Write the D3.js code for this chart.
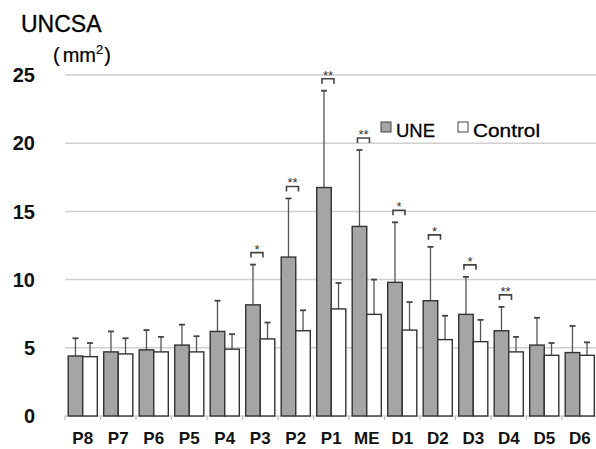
<!DOCTYPE html>
<html><head><meta charset="utf-8">
<script src="https://cdn.jsdelivr.net/npm/d3@7/dist/d3.min.js"></script>
<style>body{margin:0;background:#fff}svg{display:block}</style>
</head><body>
<svg id="c" width="596" height="449"></svg>
<script>
const categories = ["P8","P7","P6","P5","P4","P3","P2","P1","ME","D1","D2","D3","D4","D5","D6"];
const uneValues = [4.4, 4.7, 4.85, 5.2, 6.2, 8.15, 11.65, 16.75, 13.9, 9.8, 8.45, 7.45, 6.25, 5.2, 4.65];
const uneSD = [1.3, 1.5, 1.45, 1.5, 2.25, 2.95, 4.3, 7.1, 5.6, 4.4, 3.95, 2.75, 1.75, 2.0, 1.95];
const controlValues = [4.35, 4.55, 4.7, 4.7, 4.9, 5.65, 6.25, 7.85, 7.45, 6.3, 5.6, 5.45, 4.7, 4.45, 4.45];
const controlSD = [1.0, 1.15, 1.1, 1.15, 1.1, 1.2, 1.5, 1.9, 2.55, 2.05, 1.75, 1.6, 1.1, 0.9, 0.95];
const significance = ["", "", "", "", "", "*", "**", "**", "**", "*", "*", "*", "**", "", ""];
const yTicks = [0, 5, 10, 15, 20, 25];
const seriesNames = ["UNE", "Control"];
const seriesColors = ["#a5a5a5", "#ffffff"];

const svg = d3.select("#c");
const font = "Arial, 'Liberation Sans', sans-serif";
const x = d3.scaleBand().domain(categories).range([65, 597.5]).paddingInner(0.18).paddingOuter(0.09);
const xs = d3.scaleBand().domain(seriesNames).range([0, x.bandwidth()]);
const y = d3.scaleLinear().domain([0, 25]).range([416, 75]);

// gridlines
svg.append("g").selectAll("line").data(yTicks.filter(d => d > 0)).join("line")
  .attr("x1", 65).attr("x2", 596).attr("y1", d => y(d)).attr("y2", d => y(d))
  .attr("stroke", "#cfcfcf").attr("stroke-width", 1.5);

// y tick labels
svg.append("g").selectAll("text").data(yTicks).join("text")
  .attr("x", 35).attr("y", d => y(d)).attr("dy", "0.36em")
  .attr("text-anchor", "end").attr("font-family", font).attr("font-weight", "bold")
  .attr("font-size", 20).attr("fill", "#111").text(d => d);

// x axis
const xAxis = d3.axisBottom(x).tickSize(0).tickPadding(0);
const ax = svg.append("g").attr("transform", `translate(0,${y(0)})`).call(xAxis);
ax.select(".domain").remove();
ax.selectAll("text").remove();
svg.append("line").attr("x1", 65).attr("x2", 597).attr("y1", y(0)).attr("y2", y(0))
  .attr("stroke", "#bdbdbd").attr("stroke-width", 1.2);
const bounds = categories.map(c => x(c) - x.step() * x.paddingInner() / 2);
bounds.push(bounds[bounds.length - 1] + x.step());
svg.append("g").selectAll("line").data(bounds).join("line")
  .attr("x1", d => d).attr("x2", d => d).attr("y1", y(0)).attr("y2", y(0) + 4)
  .attr("stroke", "#bdbdbd").attr("stroke-width", 1.2);
svg.append("g").selectAll("text").data(categories).join("text")
  .attr("x", d => x(d) + x.bandwidth() / 2).attr("y", 444)
  .attr("text-anchor", "middle").attr("font-family", font).attr("font-size", 17)
  .attr("font-weight", "bold").attr("fill", "#111").text(d => d);

const series = [
  {name: "UNE", values: uneValues, sd: uneSD, color: seriesColors[0]},
  {name: "Control", values: controlValues, sd: controlSD, color: seriesColors[1]}
];

series.forEach(s => {
  const g = svg.append("g");
  const cx = (c) => x(c) + xs(s.name) + xs.bandwidth() / 2;
  g.selectAll("line.err").data(categories).join("line").attr("class", "err")
    .attr("x1", cx).attr("x2", cx)
    .attr("y1", (c, i) => y(s.values[i])).attr("y2", (c, i) => y(s.values[i] + s.sd[i]))
    .attr("stroke", "#555").attr("stroke-width", 1.3);
  g.selectAll("line.cap").data(categories).join("line").attr("class", "cap")
    .attr("x1", c => cx(c) - 3).attr("x2", c => cx(c) + 3)
    .attr("y1", (c, i) => y(s.values[i] + s.sd[i])).attr("y2", (c, i) => y(s.values[i] + s.sd[i]))
    .attr("stroke", "#444").attr("stroke-width", 1.8);
  g.selectAll("rect").data(categories).join("rect")
    .attr("x", c => x(c) + xs(s.name)).attr("width", xs.bandwidth())
    .attr("y", (c, i) => y(s.values[i])).attr("height", (c, i) => y(0) - y(s.values[i]))
    .attr("fill", s.color).attr("stroke", "#333").attr("stroke-width", 1.4);
});

// significance brackets
const sg = svg.append("g");
categories.forEach((c, i) => {
  if (!significance[i]) return;
  const ex = x(c) + xs("UNE") + xs.bandwidth() / 2;
  const top = y(uneValues[i] + uneSD[i]) - 12;
  sg.append("path").attr("d", `M${ex - 2},${top + 5}V${top}H${ex + 10}V${top + 5}`)
    .attr("fill", "none").attr("stroke", "#444").attr("stroke-width", 1.6);
  sg.append("text").attr("x", ex + 4).attr("y", top + 1).attr("text-anchor", "middle")
    .attr("font-family", font).attr("font-size", 13).attr("fill", "#333")
    .text(significance[i]);
});

// legend
const lg = svg.append("g");
const legendX = [381, 458];
series.forEach((s, i) => {
  lg.append("rect").attr("x", legendX[i]).attr("y", 122).attr("width", 10).attr("height", 10)
    .attr("fill", s.color).attr("stroke", "#444").attr("stroke-width", 1);
  lg.append("text").attr("x", legendX[i] + 15).attr("y", 137).attr("font-family", font)
    .attr("font-size", 19).attr("fill", "#000").attr("stroke", "#000").attr("stroke-width", 0.3)
    .attr("textLength", i === 0 ? 39 : 67).attr("lengthAdjust", "spacingAndGlyphs").text(s.name);
});

// title
svg.append("text").attr("x", 21).attr("y", 32).attr("font-family", font).attr("font-size", 23)
  .attr("fill", "#000").attr("stroke", "#000").attr("stroke-width", 0.3).text("UNCSA");
const unit = svg.append("text").attr("x", 53).attr("y", 62).attr("font-family", font)
  .attr("font-size", 20).attr("fill", "#000").attr("stroke", "#000").attr("stroke-width", 0.2);
unit.append("tspan").text("(");
unit.append("tspan").attr("dx", 3).text("mm");
unit.append("tspan").attr("font-size", 13).attr("dy", -8).text("2");
unit.append("tspan").attr("dy", 8).attr("dx", 1).text(")");
</script>
</body></html>
